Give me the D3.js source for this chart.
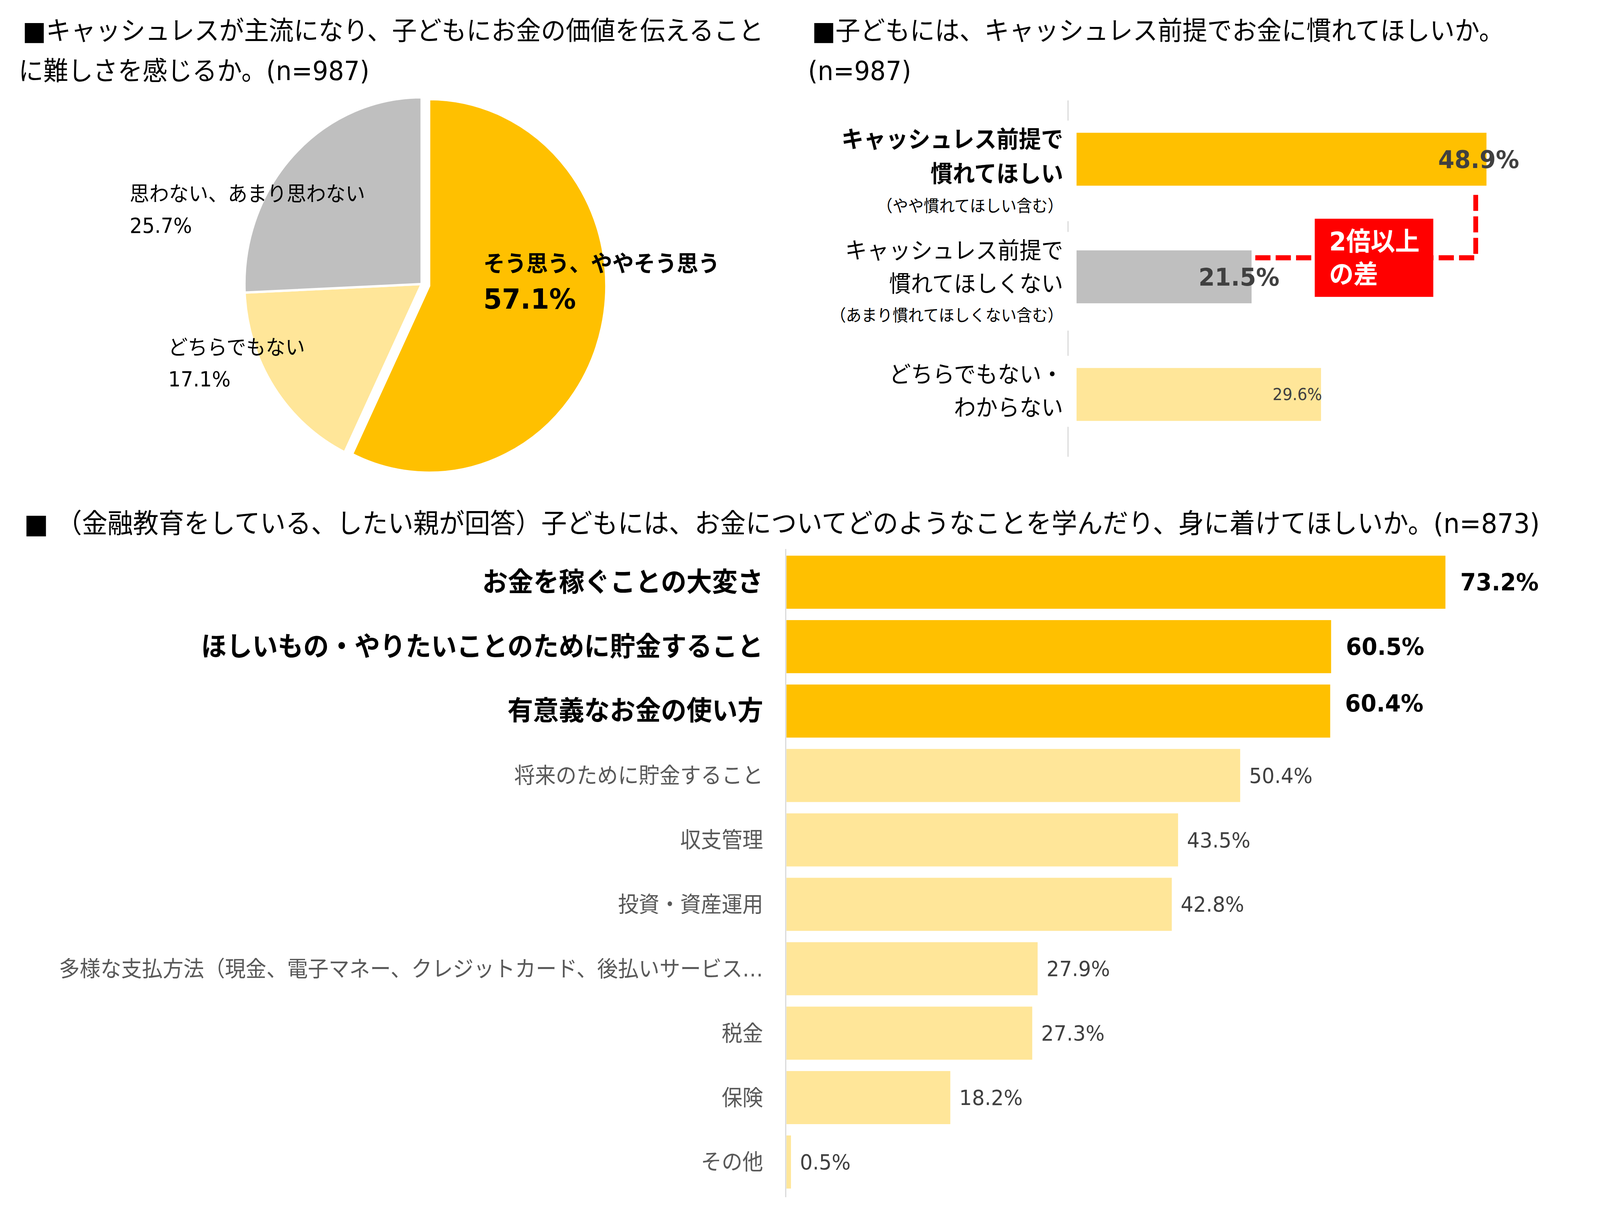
<!DOCTYPE html>
<html lang="ja">
<head>
<meta charset="utf-8">
<script src="https://cdn.jsdelivr.net/npm/d3@7"></script>
<style>
  html, body { margin: 0; padding: 0; background: #fff; overflow: hidden; }
  svg { display: block; width: 100vw; height: 100vh; font-family: "DejaVu Sans", "Noto Sans CJK JP", sans-serif; }
</style>
</head>
<body>
<svg id="chart"></svg>
<script>
// ---- データ ----
// 円グラフ：子どもにお金の価値を伝えることに難しさを感じるか
const pieNames  = ["そう思う、ややそう思う", "どちらでもない", "思わない、あまり思わない"];
const pieValues = [57.1, 17.1, 25.7];

// 横棒（右上）：キャッシュレス前提でお金に慣れてほしいか
const habitLines  = [["キャッシュレス前提で", "慣れてほしい"],
                     ["キャッシュレス前提で", "慣れてほしくない"],
                     ["どちらでもない・", "わからない"]];
const habitNotes  = ["（やや慣れてほしい含む）", "（あまり慣れてほしくない含む）", ""];
const habitValues = [48.9, 21.5, 29.6];
const habitCategories = habitLines.map(l => l.join(""));

// 横棒（下）：お金について学んだり身に着けてほしいこと
const learnCategories = ["お金を稼ぐことの大変さ",
                         "ほしいもの・やりたいことのために貯金すること",
                         "有意義なお金の使い方",
                         "将来のために貯金すること",
                         "収支管理",
                         "投資・資産運用",
                         "多様な支払方法（現金、電子マネー、クレジットカード、後払いサービス…",
                         "税金",
                         "保険",
                         "その他"];
const learnValues = [73.2, 60.5, 60.4, 50.4, 43.5, 42.8, 27.9, 27.3, 18.2, 0.5];

// ---- 色 ----
const YELLOW = "#FFC000", LIGHT = "#FFE699", GRAY = "#BFBFBF", RED = "#FF0000";
const AXIS = "#D9D9D9";
const fmt = v => v.toFixed(1) + "%";

// 元画像の座標系 (4319x3107) でそのまま描き、ウィンドウ全体に合わせる
const width = 4319, height = 3107;
const svg = d3.select("#chart")
    .attr("viewBox", `0 0 ${width} ${height}`)
    .attr("preserveAspectRatio", "none");
svg.append("rect").attr("width", width).attr("height", height).attr("fill", "#fff");

// ---- タイトル ----
function title(x, y, text, size) {
    svg.append("text").attr("x", x).attr("y", y)
        .attr("dominant-baseline", "central")
        .attr("font-size", size).attr("fill", "#000")
        .text(text);
}
title(61, 78, "■キャッシュレスが主流になり、子どもにお金の価値を伝えること", 67);
title(50, 181, "に難しさを感じるか。(n=987)", 67);
title(2192, 78, "■子どもには、キャッシュレス前提でお金に慣れてほしいか。", 67);
title(2181, 181, "(n=987)", 67);
title(65, 1340, "■ （金融教育をしている、したい親が回答）子どもには、お金についてどのようなことを学んだり、身に着けてほしいか。(n=873)", 69);

// ---- 円グラフ ----
const pieCx = 1138, pieCy = 727, pieR = 478, explode = 21;
const pieColors = [YELLOW, LIGHT, GRAY];
const pieArcs = d3.pie().sort(null).value(d => d)(pieValues);
const arc = d3.arc().innerRadius(0).outerRadius(pieR);
const pieG = svg.append("g").attr("transform", `translate(${pieCx},${pieCy})`);

pieG.selectAll("path").data(pieArcs).join("path")
    .attr("d", arc)
    .attr("fill", (d, i) => pieColors[i])
    .attr("stroke", "#fff").attr("stroke-width", 6)
    .attr("transform", (d, i) => {
        if (i !== 0) return null;
        const a = (d.startAngle + d.endAngle) / 2;
        return `translate(${Math.sin(a) * explode},${-Math.cos(a) * explode})`;
    });

// ラベル位置（円の中心からの相対）
const pieLabelPos = [[167, -52], [-684, 163], [-788, -230]];
pieArcs.forEach((d, i) => {
    const [lx, ly] = pieLabelPos[i];
    const bold = i === 0;
    pieG.append("text").attr("x", lx).attr("y", ly)
        .attr("dominant-baseline", "central").attr("fill", "#000")
        .attr("font-size", bold ? 58 : 53).attr("font-weight", bold ? "bold" : "normal")
        .text(pieNames[i]);
    pieG.append("text").attr("x", lx).attr("y", ly + (bold ? 90 : 81))
        .attr("dominant-baseline", "central").attr("fill", "#000")
        .attr("font-size", bold ? 72 : 53).attr("font-weight", bold ? "bold" : "normal")
        .text(fmt(pieValues[i]));
});

// ---- 右上の横棒 ----
const habitAxisX = 2883, habitBarX = 2906, habitLabelX = 2870;
const xHabit = d3.scaleLinear().domain([0, 100]).range([2881, 2881 + 2314]);
const yHabit = d3.scaleBand().domain(habitCategories).range([257, 1160])
    .paddingInner(0.55).paddingOuter(0.275);
const habitColors = [YELLOW, GRAY, LIGHT];
const habitLabelShift = [-21, -34, -64];
const habitLabelDy = [32, 14, -8];

svg.append("line")
    .attr("x1", habitAxisX).attr("x2", habitAxisX)
    .attr("y1", 257).attr("y2", 1169)
    .attr("stroke", AXIS).attr("stroke-width", 3);

habitCategories.forEach((c, i) => {
    const cy = yHabit(c) + yHabit.bandwidth() / 2;
    const lines = habitLines[i].map(t => ({ text: t, size: i === 0 ? 60 : 59, bold: i === 0, step: i === 0 ? 88 : 85 }));
    if (habitNotes[i]) lines.push({ text: habitNotes[i], size: 42, bold: false, step: 76 });
    const g = svg.append("g")
        .attr("transform", `translate(${habitLabelX},${cy + habitLabelDy[i]})`);
    const total = d3.sum(lines, l => l.step);
    let y = -total / 2;
    lines.forEach(l => {
        g.append("text").attr("x", 0).attr("y", y + l.step / 2)
            .attr("text-anchor", "end").attr("dominant-baseline", "central")
            .attr("font-size", l.size).attr("font-weight", l.bold ? "bold" : "normal")
            .attr("fill", "#000").text(l.text);
        y += l.step;
    });
    // 軸線を隠す白い背景
    const bb = g.node().getBBox();
    g.insert("rect", ":first-child")
        .attr("x", bb.x - 10).attr("y", bb.y - 14)
        .attr("width", habitAxisX - habitLabelX + 6 - (bb.x - 10))
        .attr("height", bb.height + 28)
        .attr("fill", "#fff");
});

svg.append("g").selectAll("rect").data(habitValues).join("rect")
    .attr("x", habitBarX)
    .attr("y", (d, i) => yHabit(habitCategories[i]))
    .attr("width", d => xHabit(d) - habitBarX)
    .attr("height", yHabit.bandwidth())
    .attr("fill", (d, i) => habitColors[i]);

// 「2倍以上の差」の注記
const gapY = yHabit(habitCategories[1]) + 19;
const gapX = xHabit(habitValues[0]) - 29;
svg.append("path")
    .attr("d", `M${xHabit(habitValues[1]) + 10},${gapY} H${gapX} V${yHabit(habitCategories[0]) + yHabit.bandwidth() + 10}`)
    .attr("fill", "none").attr("stroke", RED).attr("stroke-width", 13)
    .attr("stroke-dasharray", "41 14");
const boxCx = 3709, boxW = 320, boxH = 200;
svg.append("rect")
    .attr("x", boxCx - boxW / 2).attr("y", gapY - boxH / 2)
    .attr("width", boxW).attr("height", boxH)
    .attr("fill", RED);
["2倍以上", "の差"].forEach((t, k) => {
    svg.append("text")
        .attr("x", boxCx - boxW / 2 + 39).attr("y", gapY - 42 + k * 84)
        .attr("dominant-baseline", "central")
        .attr("font-size", 66).attr("font-weight", "bold").attr("fill", "#fff")
        .text(t);
});

svg.append("g").selectAll("text").data(habitValues).join("text")
    .attr("x", (d, i) => xHabit(d) + habitLabelShift[i])
    .attr("y", (d, i) => yHabit(habitCategories[i]) + yHabit.bandwidth() / 2)
    .attr("text-anchor", "middle").attr("dominant-baseline", "central")
    .attr("font-size", (d, i) => i < 2 ? 63 : 42)
    .attr("font-weight", (d, i) => i < 2 ? "bold" : "normal")
    .attr("fill", "#404040")
    .text(fmt);

// ---- 下の横棒 ----
const learnAxisX = 2121, learnLabelX = 2060;
const xLearn = d3.scaleLinear().domain([0, 100]).range([2123, 2123 + 2430]);
const yLearn = d3.scaleBand().domain(learnCategories).range([1405, 3059])
    .paddingInner(0.176).paddingOuter(0.104);
const topN = 3;

svg.append("g").selectAll("rect").data(learnValues).join("rect")
    .attr("x", xLearn(0))
    .attr("y", (d, i) => yLearn(learnCategories[i]))
    .attr("width", d => xLearn(d) - xLearn(0))
    .attr("height", yLearn.bandwidth())
    .attr("fill", (d, i) => i < topN ? YELLOW : LIGHT);

svg.append("line")
    .attr("x1", learnAxisX).attr("x2", learnAxisX)
    .attr("y1", 1405).attr("y2", 3064)
    .attr("stroke", AXIS).attr("stroke-width", 3);

svg.append("g").selectAll("text").data(learnCategories).join("text")
    .attr("x", learnLabelX)
    .attr("y", d => yLearn(d) + yLearn.bandwidth() / 2)
    .attr("text-anchor", "end").attr("dominant-baseline", "central")
    .attr("font-size", (d, i) => i < topN ? 69 : 56)
    .attr("font-weight", (d, i) => i < topN ? "bold" : "normal")
    .attr("fill", (d, i) => i < topN ? "#000" : "#595959")
    .text(d => d);

// 3番目のラベルは元図でやや上に置かれている
const learnValueDy = (i) => i === 2 ? -20 : 0;
svg.append("g").selectAll("text").data(learnValues).join("text")
    .attr("x", (d, i) => xLearn(d) + (i < topN ? 40 : 24))
    .attr("y", (d, i) => yLearn(learnCategories[i]) + yLearn.bandwidth() / 2 + learnValueDy(i))
    .attr("dominant-baseline", "central")
    .attr("font-size", (d, i) => i < topN ? 61 : 54)
    .attr("font-weight", (d, i) => i < topN ? "bold" : "normal")
    .attr("fill", (d, i) => i < topN ? "#000" : "#404040")
    .text(fmt);
</script>
</body>
</html>
